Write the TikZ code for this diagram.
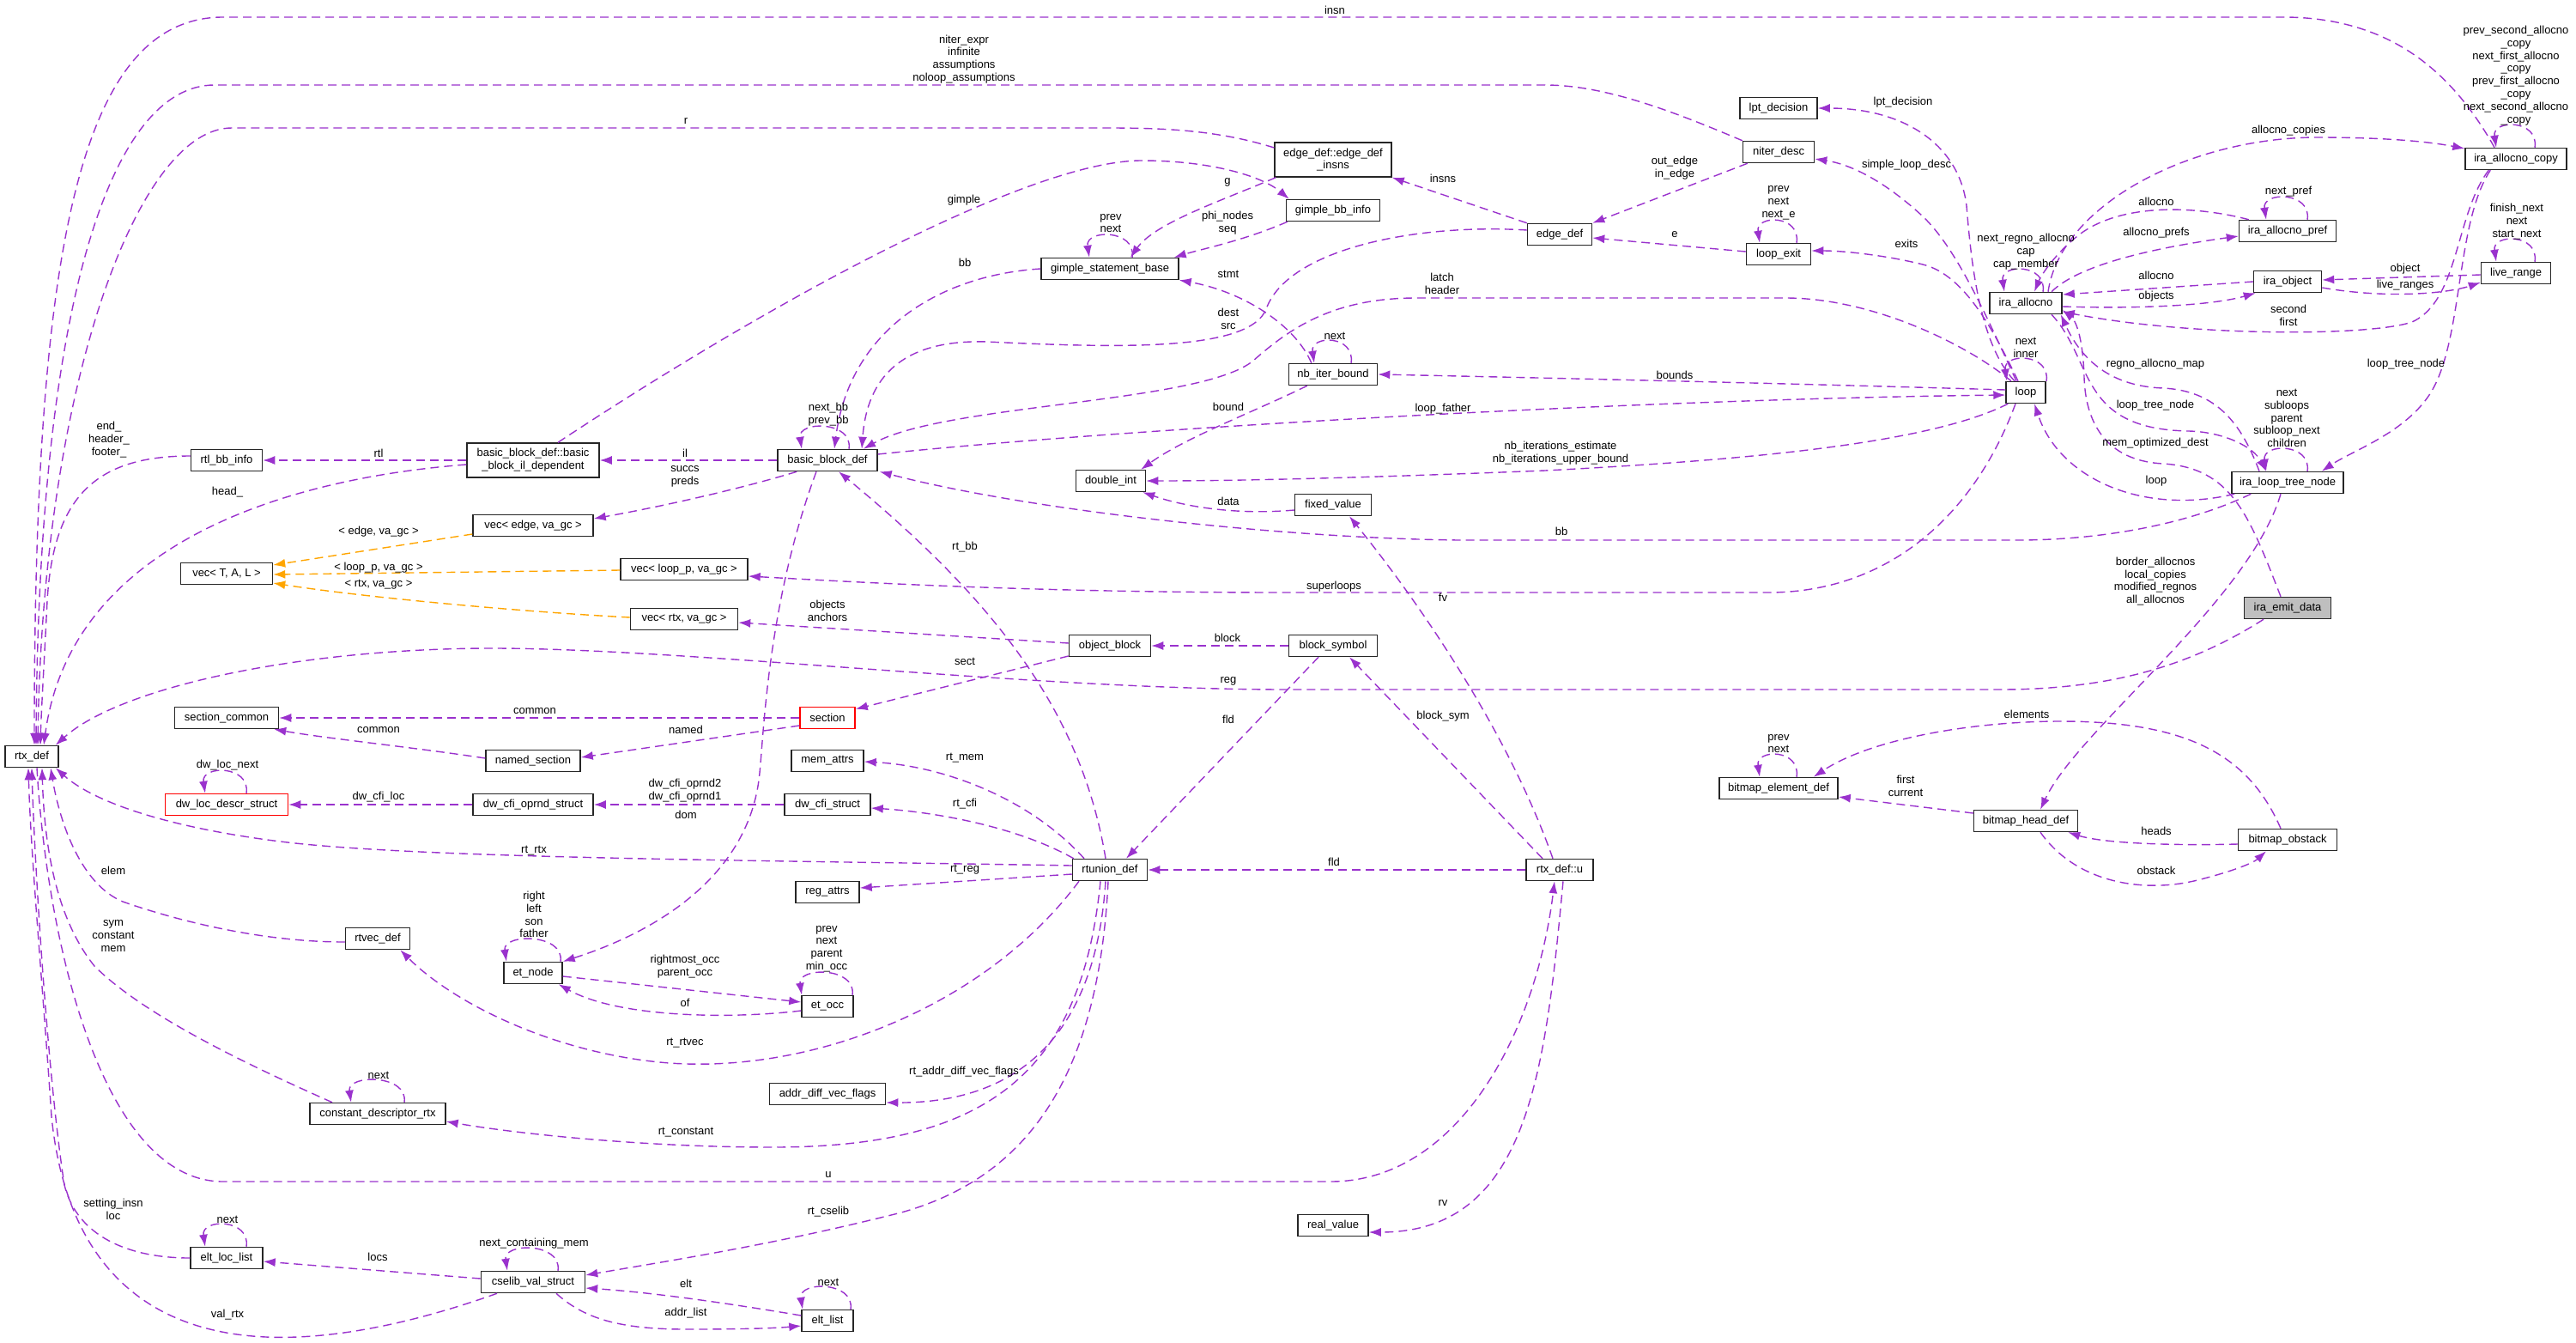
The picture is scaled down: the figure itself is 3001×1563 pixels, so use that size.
\documentclass[tikz,border=0pt]{standalone}
\usepackage{fontspec}
\setmainfont{Liberation Sans}
\usetikzlibrary{arrows.meta,calc}
\definecolor{edgec}{HTML}{9A32CD}
\definecolor{orangec}{HTML}{FFA500}
\definecolor{boxgray}{HTML}{BFBFBF}
\newcommand{\dfnt}{\fontsize{6.5}{7.4}\selectfont}
\tikzset{
  box/.style={draw=black!85, line width=0.75pt, fill=white, minimum height=12.5pt, inner sep=0pt, font=\dfnt},
  boxtwo/.style={box, minimum height=20pt, align=center},
  uedge/.style={color=edgec, line width=0.7pt, dash pattern=on 5pt off 3pt, -{Latex[length=7pt,width=5pt]}},
  tedge/.style={uedge, color=orangec},
  lbl/.style={inner sep=0pt, align=center, font=\dfnt}
}
\newcommand{\myloop}[3]{\draw[uedge] ($(#1.north)+(#3,0)$) .. controls +(5,-33) and +(-5,-33) .. ($(#1.north)+(#2,0)$);}
\begin{document}
\begin{tikzpicture}[x=0.5pt,y=-0.5pt]
\useasboundingbox (0,0) rectangle (3001,1563);
% ---------------- nodes ----------------
\node[box,minimum width=31pt] (rtx) at (37,881) {rtx\_def};
\node[box,minimum width=41.5pt] (rtlbb) at (264,536) {rtl\_bb\_info};
\node[boxtwo,minimum width=77pt] (bbil) at (621,536) {basic\_block\_def::basic\\\_block\_il\_dependent};
\node[box,minimum width=70pt] (vecedge) at (621,612) {vec< edge, va\_gc >};
\node[box,minimum width=53.5pt] (vecT) at (264,668) {vec< T, A, L >};
\node[box,minimum width=74pt] (vecloop) at (797,663) {vec< loop\_p, va\_gc >};
\node[box,minimum width=62.5pt] (vecrtx) at (797,721) {vec< rtx, va\_gc >};
\node[box,minimum width=60.5pt] (seccom) at (264,836) {section\_common};
\node[box,minimum width=55pt] (namedsec) at (621,886) {named\_section};
\node[box,draw=red,minimum width=71.5pt] (dwloc) at (264,937) {dw\_loc\_descr\_struct};
\node[box,minimum width=70pt] (dwoprnd) at (621,937) {dw\_cfi\_oprnd\_struct};
\node[box,minimum width=58pt] (bbd) at (964,536) {basic\_block\_def};
\node[box,minimum width=40.5pt] (dint) at (1294,560) {double\_int};
\node[box,minimum width=47.5pt] (objblk) at (1293,752) {object\_block};
\node[box,draw=red,minimum width=32pt] (sect) at (964,836) {section};
\node[box,minimum width=42pt] (memattr) at (964,886) {mem\_attrs};
\node[box,minimum width=50pt] (dwcfi) at (964,937) {dw\_cfi\_struct};
\node[box,minimum width=43.5pt] (rtu) at (1293,1013) {rtunion\_def};
\node[box,minimum width=37pt] (regattr) at (964,1039) {reg\_attrs};
\node[box,minimum width=44.5pt] (fixval) at (1553,588) {fixed\_value};
\node[box,minimum width=51.5pt] (blksym) at (1553,752) {block\_symbol};
\node[box,minimum width=69pt] (bmelem) at (2072,918) {bitmap\_element\_def};
\node[box,minimum width=39pt] (rtxu) at (1817,1013) {rtx\_def::u};
\node[box,minimum width=65pt] (iltn) at (2665,562) {ira\_loop\_tree\_node};
\node[box,fill=boxgray,minimum width=50.5pt] (ied) at (2665,708) {ira\_emit\_data};
\node[box,minimum width=60.5pt] (bmhead) at (2360,956) {bitmap\_head\_def};
\node[box,minimum width=57.5pt] (bmobs) at (2665,978) {bitmap\_obstack};
\node[box,minimum width=80pt] (gsb) at (1293,313) {gimple\_statement\_base};
\node[boxtwo,minimum width=68pt] (edins) at (1553,186) {edge\_def::edge\_def\\\_insns};
\node[box,minimum width=54.5pt] (gbb) at (1553,245) {gimple\_bb\_info};
\node[box,minimum width=37.5pt] (edge) at (1817,273) {edge\_def};
\node[box,minimum width=45pt] (lpt) at (2072,126) {lpt\_decision};
\node[box,minimum width=41.5pt] (niter) at (2072,177) {niter\_desc};
\node[box,minimum width=37.5pt] (lexit) at (2072,296) {loop\_exit};
\node[box,minimum width=51.5pt] (nbib) at (1553,436) {nb\_iter\_bound};
\node[box,minimum width=59pt] (iacopy) at (2931,185) {ira\_allocno\_copy};
\node[box,minimum width=56.5pt] (iapref) at (2665,269) {ira\_allocno\_pref};
\node[box,minimum width=39.5pt] (iaobj) at (2665,328) {ira\_object};
\node[box,minimum width=40.5pt] (lrange) at (2931,318) {live\_range};
\node[box,minimum width=42pt] (ialloc) at (2360,353) {ira\_allocno};
\node[box,minimum width=23pt] (loop) at (2360,457) {loop};
\node[box,minimum width=37.5pt] (rtvec) at (440,1093) {rtvec\_def};
\node[box,minimum width=34pt] (etnode) at (621,1133) {et\_node};
\node[box,minimum width=79pt] (cdr) at (440,1297) {constant\_descriptor\_rtx};
\node[box,minimum width=42pt] (eltloc) at (264,1465) {elt\_loc\_list};
\node[box,minimum width=60.5pt] (cselib) at (621,1493) {cselib\_val\_struct};
\node[box,minimum width=30pt] (etocc) at (964,1172) {et\_occ};
\node[box,minimum width=67.5pt] (adv) at (964,1274) {addr\_diff\_vec\_flags};
\node[box,minimum width=30pt] (eltlist) at (964,1538) {elt\_list};
\node[box,minimum width=41pt] (realv) at (1553,1427) {real\_value};
% ---------------- edges into rtx_def ----------------
\draw[uedge] ($(iacopy.north)+(-25,0)$) .. controls (2860,90) and (2790,20) .. (2660,20) -- (260,20) .. controls (90,20) and (40,300) .. ($(rtx.north)+(3,0)$);
\draw[uedge] (niter.north west) .. controls (1950,130) and (1870,99) .. (1800,99) -- (250,99) .. controls (130,99) and (45,350) .. ($(rtx.north)+(5,0)$);
\draw[uedge] ($(edins.west)+(0,-14)$) .. controls (1420,152) and (1360,149) .. (1290,149) -- (270,149) .. controls (160,149) and (50,450) .. ($(rtx.north)+(7,0)$);
\draw[uedge] ($(rtlbb.west)+(0,-5)$) .. controls (110,531) and (62,580) .. (55,700) .. controls (51,780) and (48,830) .. ($(rtx.north)+(10,0)$);
\draw[uedge] ($(bbil.west)+(0,5)$) .. controls (300,560) and (80,650) .. ($(rtx.north)+(14,0)$);
\draw[uedge] ($(ied.south)+(-28,0)$) .. controls (2560,770) and (2470,803) .. (2330,803) -- (1500,803) .. controls (1200,803) and (800,755) .. (574,755) .. controls (350,755) and (140,800) .. ($(rtx.north east)+(-4,0)$);
\draw[uedge] ($(rtu.west)+(0,-5)$) .. controls (900,1002) and (500,1000) .. (335,981) .. controls (200,965) and (110,935) .. ($(rtx.south east)+(-4,0)$);
\draw[uedge] ($(rtvec.west)+(0,4)$) .. controls (300,1097) and (200,1070) .. (143,1050) .. controls (95,1030) and (70,960) .. ($(rtx.south)+(22,0)$);
\draw[uedge] ($(cdr.north)+(-53,0)$) .. controls (300,1245) and (170,1185) .. (110,1125) .. controls (70,1075) and (52,1000) .. ($(rtx.south)+(12,0)$);
\draw[uedge] (eltloc.west) .. controls (150,1465) and (90,1440) .. (75,1380) .. controls (55,1250) and (40,1000) .. (rtx.south);
\draw[uedge] ($(cselib.south)+(-42,0)$) .. controls (470,1545) and (380,1560) .. (310,1557) .. controls (150,1550) and (75,1450) .. (60,1300) .. controls (50,1150) and (36,1000) .. ($(rtx.south)+(-4,0)$);
\draw[uedge] ($(rtx.south)+(6,0)$) .. controls (55,1100) and (120,1376) .. (260,1376) -- (1550,1376) .. controls (1700,1376) and (1790,1200) .. ($(rtxu.south)+(-6,0)$);
% ---------------- rtx_def::u ----------------
\draw[uedge] ($(rtxu.south)+(4,0)$) .. controls (1800,1250) and (1780,1435) .. ($(realv.east)+(0,8)$);
\draw[uedge] (rtxu.west) -- (rtu.east);
\draw[uedge] ($(rtxu.north)+(-8,0)$) .. controls (1760,860) and (1660,710) .. ($(fixval.south)+(19,0)$);
\draw[uedge] ($(rtxu.north)+(-20,0)$) -- ($(blksym.south)+(19,0)$);
\draw[uedge] ($(blksym.south)+(-17,0)$) -- ($(rtu.north)+(19,0)$);
\draw[uedge] (blksym.west) -- (objblk.east);
\draw[uedge] ($(fixval.west)+(0,6)$) .. controls (1440,600) and (1380,590) .. ($(dint.south east)+(-4,0)$);
% ---------------- object_block / section ----------------
\draw[uedge] ($(objblk.west)+(0,-3)$) -- ($(vecrtx.east)+(0,4)$);
\draw[uedge] ($(objblk.west)+(0,12)$) -- ($(sect.north east)+(0,3)$);
\draw[uedge] (sect.west) -- (seccom.east);
\draw[uedge] ($(sect.west)+(0,9)$) -- ($(namedsec.east)+(0,-4)$);
\draw[uedge] ($(namedsec.west)+(0,-3)$) .. controls (480,870) and (380,860) .. ($(seccom.south east)+(-6,0)$);
\draw[uedge] (dwcfi.west) -- (dwoprnd.east);
\draw[uedge] (dwoprnd.west) -- (dwloc.east);
% ---------------- rtunion_def ----------------
\draw[uedge] ($(rtu.north)+(-30,0)$) .. controls (1200,930) and (1100,892) .. ($(memattr.east)+(0,1)$);
\draw[uedge] ($(rtu.north west)+(2,0)$) .. controls (1180,960) and (1080,945) .. ($(dwcfi.east)+(0,4)$);
\draw[uedge] ($(rtu.west)+(0,5)$) -- ($(regattr.east)+(0,-5)$);
\draw[uedge] ($(rtu.north)+(-5,0)$) .. controls (1260,830) and (1160,700) .. ($(bbd.south)+(13,0)$);
\draw[uedge] ($(rtu.south)+(-36,0)$) .. controls (1150,1170) and (950,1250) .. (780,1238) .. controls (650,1228) and (530,1170) .. ($(rtvec.south east)+(-12,0)$);
\draw[uedge] ($(rtu.south)+(-5,0)$) .. controls (1280,1150) and (1230,1285) .. ($(adv.east)+(0,10)$);
\draw[uedge] ($(rtu.south)+(-11,0)$) .. controls (1260,1250) and (1150,1336) .. (900,1336) .. controls (750,1336) and (600,1320) .. ($(cdr.east)+(0,9)$);
\draw[uedge] ($(rtu.south)+(-2,0)$) .. controls (1280,1250) and (1200,1370) .. (1050,1412) .. controls (900,1450) and (780,1468) .. ($(cselib.east)+(0,-8)$);
% ---------------- cselib / elt ----------------
\draw[uedge] ($(cselib.west)+(0,-4)$) -- ($(eltloc.east)+(0,4)$);
\draw[uedge] ($(cselib.south)+(27,0)$) .. controls (680,1535) and (720,1548) .. (800,1548) .. controls (860,1548) and (900,1547) .. ($(eltlist.west)+(0,6)$);
\draw[uedge] ($(eltlist.west)+(0,-6)$) .. controls (850,1518) and (760,1505) .. ($(cselib.east)+(0,7)$);
% ---------------- et ----------------
\draw[uedge] ($(etnode.east)+(0,4)$) -- ($(etocc.west)+(0,-5)$);
\draw[uedge] ($(etocc.west)+(0,5)$) .. controls (850,1187) and (720,1185) .. ($(etnode.south east)+(-5,0)$);
% ---------------- basic_block_def ----------------
\draw[uedge] ($(bbd.south)+(-13,0)$) .. controls (895,700) and (890,850) .. (885,900) .. controls (875,1010) and (780,1080) .. (etnode.north east);
\draw[uedge] ($(bbd.south west)+(23,0)$) .. controls (860,570) and (770,590) .. ($(vecedge.east)+(0,-8)$);
\draw[uedge] (bbd.west) -- (bbil.east);
\draw[uedge] (bbil.west) -- (rtlbb.east);
\draw[uedge] ($(bbil.north)+(29,0)$) .. controls (900,350) and (1200,187) .. (1330,187) .. controls (1410,187) and (1470,205) .. ($(gbb.north west)+(4,0)$);
\draw[uedge] (gsb.west) .. controls (1100,320) and (990,380) .. ($(bbd.north)+(8,0)$);
\draw[uedge] ($(edge.west)+(0,-5)$) .. controls (1650,260) and (1500,290) .. (1475,360) .. controls (1455,410) and (1300,405) .. (1150,398) .. controls (1050,395) and (1010,440) .. ($(bbd.north)+(40,0)$);
\draw[uedge] ($(loop.north)+(-17,0)$) .. controls (2290,400) and (2180,347) .. (2080,347) -- (1650,347) .. controls (1550,347) and (1500,385) .. (1460,420) .. controls (1400,470) and (1100,470) .. ($(bbd.north)+(42,0)$);
\draw[uedge] ($(bbd.east)+(0,-7)$) .. controls (1300,500) and (1900,465) .. ($(loop.west)+(0,3)$);
% ---------------- loop ----------------
\draw[uedge] ($(loop.south west)+(3,0)$) .. controls (2250,515) and (2050,535) .. (1800,548) .. controls (1600,556) and (1450,560) .. (dint.east);
\draw[uedge] ($(loop.west)+(0,-3)$) .. controls (2100,447) and (1800,440) .. (nbib.east);
\draw[uedge] ($(loop.south)+(-12,0)$) .. controls (2300,600) and (2200,690) .. (2060,690) -- (1500,690) .. controls (1200,690) and (1000,678) .. ($(vecloop.east)+(0,8)$);
\draw[uedge] ($(loop.north)+(-13,0)$) .. controls (2305,400) and (2296,300) .. (2291,240) .. controls (2283,170) and (2220,126) .. (lpt.east);
\draw[uedge] ($(loop.north)+(-11,0)$) .. controls (2315,370) and (2280,290) .. (2240,252) .. controls (2200,215) and (2160,192) .. ($(niter.east)+(0,8)$);
\draw[uedge] ($(loop.north)+(-9,0)$) .. controls (2325,390) and (2290,320) .. (2240,308) .. controls (2200,298) and (2150,292) .. ($(lexit.east)+(0,-4)$);
% ---------------- nb_iter_bound, edges, gimple ----------------
\draw[uedge] ($(nbib.north west)+(27,0)$) .. controls (1510,380) and (1450,340) .. (gsb.south east);
\draw[uedge] ($(nbib.south west)+(22,0)$) .. controls (1460,480) and (1380,510) .. ($(dint.north east)+(-6,0)$);
\draw[uedge] (edge.north west) -- (edins.south east);
\draw[uedge] ($(niter.south west)+(6,0)$) -- (edge.north east);
\draw[uedge] ($(lexit.west)+(0,-3)$) -- ($(edge.east)+(0,4)$);
\draw[uedge] ($(edins.south west)+(2,0)$) .. controls (1420,235) and (1345,260) .. ($(gsb.north)+(24,0)$);
\draw[uedge] ($(gbb.south west)+(2,0)$) .. controls (1450,280) and (1400,290) .. ($(gsb.north east)+(-6,0)$);
% ---------------- ira ----------------
\draw[uedge] ($(iltn.south west)+(4,0)$) .. controls (2500,600) and (2400,560) .. ($(loop.south)+(10,0)$);
\draw[uedge] ($(iltn.south west)+(23,0)$) .. controls (2550,610) and (2450,629) .. (2350,629) -- (1700,629) .. controls (1500,627) and (1200,595) .. ($(bbd.south east)+(2,0)$);
\draw[uedge] ($(iltn.south)+(-8,0)$) .. controls (2620,700) and (2420,850) .. ($(bmhead.north)+(17,0)$);
\draw[uedge] ($(ialloc.south)+(30,0)$) .. controls (2440,420) and (2420,500) .. (2550,502) .. controls (2590,503) and (2625,520) .. ($(iltn.north)+(-25,0)$);
\draw[uedge] ($(iltn.north)+(-33,0)$) .. controls (2610,490) and (2580,455) .. (2520,452) .. controls (2460,450) and (2425,420) .. ($(ialloc.south east)+(-2,0)$);
\draw[uedge] ($(ied.north)+(-8,0)$) .. controls (2620,600) and (2600,545) .. (2520,540) .. controls (2460,537) and (2430,500) .. (2428,440) .. controls (2427,400) and (2420,375) .. ($(ialloc.east)+(0,8)$);
\draw[uedge] ($(iacopy.south west)+(28,0)$) .. controls (2860,250) and (2865,350) .. (2810,375) .. controls (2760,392) and (2550,392) .. ($(ialloc.east)+(0,10)$);
\draw[uedge] ($(iacopy.south west)+(30,0)$) .. controls (2860,260) and (2870,400) .. (2830,460) .. controls (2800,505) and (2740,525) .. ($(iltn.north east)+(-26,0)$);
\draw[uedge] ($(ialloc.north)+(26,0)$) .. controls (2400,240) and (2550,160) .. (2700,160) .. controls (2780,160) and (2830,165) .. ($(iacopy.west)+(0,-12)$);
\draw[uedge] ($(iapref.north west)+(12,0)$) .. controls (2560,240) and (2470,235) .. (2420,275) .. controls (2395,295) and (2378,320) .. ($(ialloc.north)+(10,0)$);
\draw[uedge] ($(ialloc.north)+(30,0)$) .. controls (2420,310) and (2500,290) .. ($(iapref.west)+(0,6)$);
\draw[uedge] (iaobj.west) -- ($(ialloc.east)+(0,-10)$);
\draw[uedge] ($(ialloc.east)+(0,4)$) .. controls (2500,360) and (2580,355) .. ($(iaobj.south west)+(3,0)$);
\draw[uedge] ($(lrange.west)+(0,2)$) -- ($(iaobj.east)+(0,-2)$);
\draw[uedge] ($(iaobj.east)+(0,7)$) .. controls (2780,348) and (2850,342) .. ($(lrange.west)+(0,11)$);
% ---------------- bitmap ----------------
\draw[uedge] ($(bmobs.west)+(0,5)$) .. controls (2530,985) and (2450,982) .. ($(bmhead.south east)+(-12,0)$);
\draw[uedge] ($(bmhead.south)+(17,0)$) .. controls (2420,1030) and (2500,1040) .. (2560,1025) .. controls (2600,1015) and (2625,1005) .. ($(bmobs.south)+(-25,0)$);
\draw[uedge] ($(bmobs.north)+(-8,0)$) .. controls (2620,880) and (2550,840) .. (2400,840) .. controls (2300,840) and (2180,860) .. ($(bmelem.north east)+(-29,0)$);
\draw[uedge] ($(bmhead.west)+(0,-9)$) -- ($(bmelem.east)+(0,10)$);
% ---------------- template instances ----------------
\draw[tedge] ($(vecedge.west)+(0,10)$) -- ($(vecT.east)+(0,-10)$);
\draw[tedge] ($(vecloop.west)+(0,1)$) -- ($(vecT.east)+(0,1)$);
\draw[tedge] ($(vecrtx.west)+(0,-2)$) .. controls (600,712) and (420,695) .. ($(vecT.east)+(0,11)$);
% ---------------- self loops ----------------
\myloop{gsb}{-24}{26}
\myloop{bbd}{-30}{25}
\myloop{nbib}{-22}{21}
\myloop{lexit}{-22}{21}
\myloop{loop}{-22}{24}
\myloop{ialloc}{-25}{20}
\myloop{iapref}{-25}{23}
\myloop{lrange}{-23}{22}
\myloop{iacopy}{-23}{22}
\myloop{iltn}{-25}{23}
\myloop{bmelem}{-22}{21}
\myloop{dwloc}{-25}{23}
\myloop{etnode}{-31}{32}
\myloop{etocc}{-30}{29}
\myloop{cdr}{-31}{31}
\myloop{eltloc}{-25}{23}
\myloop{cselib}{-30}{29}
\myloop{eltlist}{-29}{27}
% ---------------- labels ----------------
\node[lbl] (l1) at (1555,12) {insn};
\node[lbl] (l2) at (1123,69) {niter\_expr\\infinite\\assumptions\\noloop\_assumptions};
\node[lbl] (l3) at (799,141) {r};
\node[lbl] (l4) at (127,512) {end\_\\header\_\\footer\_};
\node[lbl] (l5) at (265,573) {head\_};
\node[lbl] (l6) at (1123,233) {gimple};
\node[lbl] (l7) at (1124,306) {bb};
\node[lbl] (l8) at (1294,260) {prev\\next};
\node[lbl] (l9) at (1430,212) {g};
\node[lbl] (l10) at (1430,260) {phi\_nodes\\seq};
\node[lbl] (l11) at (1431,319) {stmt};
\node[lbl] (l12) at (1431,371) {dest\\src};
\node[lbl] (l13) at (1681,208) {insns};
\node[lbl] (l14) at (1951,196) {out\_edge\\in\_edge};
\node[lbl] (l15) at (1951,273) {e};
\node[lbl] (l16) at (2072,236) {prev\\next\\next\_e};
\node[lbl] (l17) at (2217,119) {lpt\_decision};
\node[lbl] (l18) at (2221,192) {simple\_loop\_desc};
\node[lbl] (l19) at (2221,284) {exits};
\node[lbl] (l20) at (1680,330) {latch\\header};
\node[lbl] (l21) at (1555,391) {next};
\node[lbl] (l22) at (1951,437) {bounds};
\node[lbl] (l23) at (1681,476) {loop\_father};
\node[lbl] (l24) at (1818,528) {nb\_iterations\_estimate\\nb\_iterations\_upper\_bound};
\node[lbl] (l25) at (1431,474) {bound};
\node[lbl] (l26) at (965,483) {next\_bb\\prev\_bb};
\node[lbl] (l27) at (798,528) {il};
\node[lbl] (l28) at (798,555) {succs\\preds};
\node[lbl] (l29) at (441,528) {rtl};
\node[lbl] (l30) at (441,619) {< edge, va\_gc >};
\node[lbl] (l31) at (441,661) {< loop\_p, va\_gc >};
\node[lbl] (l32) at (441,681) {< rtx, va\_gc >};
\node[lbl] (l33) at (1431,584) {data};
\node[lbl] (l34) at (1124,637) {rt\_bb};
\node[lbl] (l35) at (1681,696) {fv};
\node[lbl] (l36) at (1554,683) {superloops};
\node[lbl] (l37) at (964,711) {objects\\anchors};
\node[lbl] (l38) at (1430,743) {block};
\node[lbl] (l39) at (1124,770) {sect};
\node[lbl] (l40) at (1431,793) {reg};
\node[lbl] (l41) at (623,828) {common};
\node[lbl] (l42) at (799,850) {named};
\node[lbl] (l43) at (441,850) {common};
\node[lbl] (l44) at (1681,834) {block\_sym};
\node[lbl] (l45) at (1431,838) {fld};
\node[lbl] (l46) at (1124,883) {rt\_mem};
\node[lbl] (l47) at (265,891) {dw\_loc\_next};
\node[lbl] (l48) at (798,921) {dw\_cfi\_oprnd2\\dw\_cfi\_oprnd1};
\node[lbl] (l49) at (441,928) {dw\_cfi\_loc};
\node[lbl] (l50) at (1124,936) {rt\_cfi};
\node[lbl] (l51) at (799,949) {dom};
\node[lbl] (l52) at (622,991) {rt\_rtx};
\node[lbl] (l53) at (1554,1004) {fld};
\node[lbl] (l54) at (1124,1013) {rt\_reg};
\node[lbl] (l55) at (132,1014) {elem};
\node[lbl] (l56) at (622,1065) {right\\left\\son\\father};
\node[lbl] (l57) at (132,1090) {sym\\constant\\mem};
\node[lbl] (l58) at (963,1105) {prev\\next\\parent\\min\_occ};
\node[lbl] (l59) at (798,1126) {rightmost\_occ\\parent\_occ};
\node[lbl] (l60) at (798,1168) {of};
\node[lbl] (l61) at (798,1215) {rt\_rtvec};
\node[lbl] (l62) at (1123,1248) {rt\_addr\_diff\_vec\_flags};
\node[lbl] (l63) at (441,1252) {next};
\node[lbl] (l64) at (799,1319) {rt\_constant};
\node[lbl] (l65) at (965,1368) {u};
\node[lbl] (l66) at (1681,1401) {rv};
\node[lbl] (l67) at (132,1408) {setting\_insn\\loc};
\node[lbl] (l68) at (965,1411) {rt\_cselib};
\node[lbl] (l69) at (265,1420) {next};
\node[lbl] (l70) at (622,1448) {next\_containing\_mem};
\node[lbl] (l71) at (440,1464) {locs};
\node[lbl] (l72) at (799,1495) {elt};
\node[lbl] (l73) at (965,1493) {next};
\node[lbl] (l74) at (799,1529) {addr\_list};
\node[lbl] (l75) at (265,1531) {val\_rtx};
\node[lbl] (l76) at (2931,88) {prev\_second\_allocno\\\_copy\\next\_first\_allocno\\\_copy\\prev\_first\_allocno\\\_copy\\next\_second\_allocno\\\_copy};
\node[lbl] (l77) at (2666,152) {allocno\_copies};
\node[lbl] (l78) at (2512,235) {allocno};
\node[lbl] (l79) at (2666,223) {next\_pref};
\node[lbl] (l80) at (2512,271) {allocno\_prefs};
\node[lbl] (l81) at (2932,258) {finish\_next\\next\\start\_next};
\node[lbl] (l82) at (2360,293) {next\_regno\_allocno\\cap\\cap\_member};
\node[lbl] (l83) at (2512,321) {allocno};
\node[lbl] (l84) at (2512,345) {objects};
\node[lbl] (l85) at (2802,313) {object};
\node[lbl] (l86) at (2802,332) {live\_ranges};
\node[lbl] (l87) at (2666,367) {second\\first};
\node[lbl] (l88) at (2360,405) {next\\inner};
\node[lbl] (l89) at (2511,424) {regno\_allocno\_map};
\node[lbl] (l90) at (2511,472) {loop\_tree\_node};
\node[lbl] (l91) at (2803,424) {loop\_tree\_node};
\node[lbl] (l92) at (2664,487) {next\\subloops\\parent\\subloop\_next\\children};
\node[lbl] (l93) at (2511,516) {mem\_optimized\_dest};
\node[lbl] (l94) at (2512,560) {loop};
\node[lbl] (l95) at (1819,619) {bb};
\node[lbl] (l96) at (2511,677) {border\_allocnos\\local\_copies\\modified\_regnos\\all\_allocnos};
\node[lbl] (l97) at (2361,832) {elements};
\node[lbl] (l98) at (2072,866) {prev\\next};
\node[lbl] (l99) at (2220,915) {first\\current};
\node[lbl] (l100) at (2512,968) {heads};
\node[lbl] (l101) at (2512,1014) {obstack};
\end{tikzpicture}
\end{document}
